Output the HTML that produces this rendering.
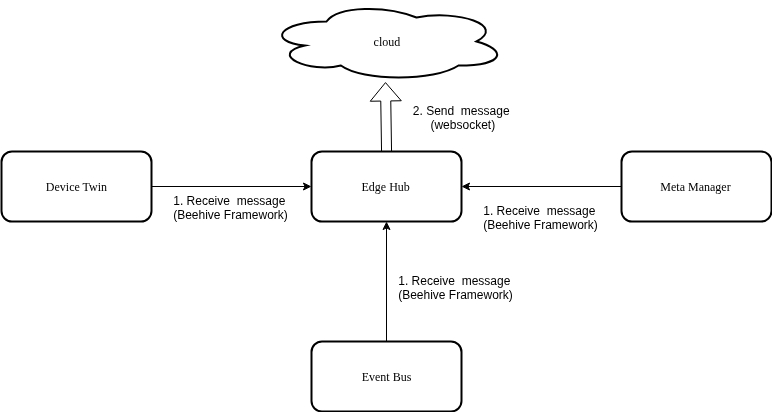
<!DOCTYPE html>
<html><head><meta charset="utf-8"><style>
html,body{margin:0;padding:0;background:#fff;}
svg{display:block;will-change:transform;}
.s{font-family:"Liberation Serif",serif;font-size:12px;fill:#000;}
.a{font-family:"Liberation Sans",sans-serif;font-size:12px;fill:#000;}
</style></head><body>
<svg width="772" height="412" viewBox="0 0 772 412">
<path d="M 326.50 21.50 C 278.50 21.50 266.50 41.50 304.90 45.50 C 266.50 54.30 309.70 73.50 340.90 65.50 C 362.50 81.50 434.50 81.50 458.50 65.50 C 506.50 65.50 506.50 49.50 476.50 41.50 C 506.50 25.50 458.50 9.50 416.50 17.50 C 386.50 5.50 338.50 5.50 326.50 21.50 Z" fill="#fff" stroke="#000" stroke-width="2" stroke-miterlimit="10"/>
<text class="s" x="386.9" y="46" text-anchor="middle">cloud</text>

<!-- flex arrow -->
<path d="M 381.56 151.58 L 380.78 101.07 L 370.28 101.24 L 385.50 82.60 L 401.28 100.76 L 390.78 100.92 L 391.56 151.42" fill="#fff" stroke="#000" stroke-width="1" stroke-miterlimit="10"/>
<text class="a" x="461.2" y="114.5" text-anchor="middle" xml:space="preserve">2. Send  message</text>
<text class="a" x="462.8" y="128.5" text-anchor="middle">(websocket)</text>

<!-- boxes -->
<rect x="1.5" y="151.5" width="150" height="70" rx="10.5" ry="10.5" fill="#fff" stroke="#000" stroke-width="2"/>
<text class="s" x="76.5" y="190.5" text-anchor="middle">Device Twin</text>
<rect x="311.5" y="151.5" width="150" height="70" rx="10.5" ry="10.5" fill="#fff" stroke="#000" stroke-width="2"/>
<text class="s" x="385.7" y="190.5" text-anchor="middle">Edge Hub</text>
<rect x="621.5" y="151.5" width="150" height="70" rx="10.5" ry="10.5" fill="#fff" stroke="#000" stroke-width="2"/>
<text class="s" x="695.5" y="190.5" text-anchor="middle">Meta Manager</text>
<rect x="311.5" y="341.5" width="150" height="70" rx="10.5" ry="10.5" fill="#fff" stroke="#000" stroke-width="2"/>
<text class="s" x="386.5" y="380.5" text-anchor="middle">Event Bus</text>

<!-- arrows -->
<path d="M 151.5 186.5 L 305.13 186.5" fill="none" stroke="#000" stroke-miterlimit="10"/>
<path d="M 310.38 186.5 L 303.38 190 L 305.13 186.5 L 303.38 183 Z" fill="#000" stroke="#000" stroke-miterlimit="10"/>
<text class="a" x="229.3" y="204.5" text-anchor="middle" xml:space="preserve">1. Receive  message</text>
<text class="a" x="230.5" y="218.5" text-anchor="middle">(Beehive Framework)</text>

<path d="M 621.5 186.5 L 467.87 186.5" fill="none" stroke="#000" stroke-miterlimit="10"/>
<path d="M 462.62 186.5 L 469.62 183 L 467.87 186.5 L 469.62 190 Z" fill="#000" stroke="#000" stroke-miterlimit="10"/>
<text class="a" x="539.3" y="214.5" text-anchor="middle" xml:space="preserve">1. Receive  message</text>
<text class="a" x="540.5" y="228.5" text-anchor="middle">(Beehive Framework)</text>

<path d="M 386.5 341.5 L 386.5 227.87" fill="none" stroke="#000" stroke-miterlimit="10"/>
<path d="M 386.5 222.62 L 390 229.62 L 386.5 227.87 L 383 229.62 Z" fill="#000" stroke="#000" stroke-miterlimit="10"/>
<text class="a" x="454.3" y="284.5" text-anchor="middle" xml:space="preserve">1. Receive  message</text>
<text class="a" x="455.5" y="298.5" text-anchor="middle">(Beehive Framework)</text>
</svg>
</body></html>
